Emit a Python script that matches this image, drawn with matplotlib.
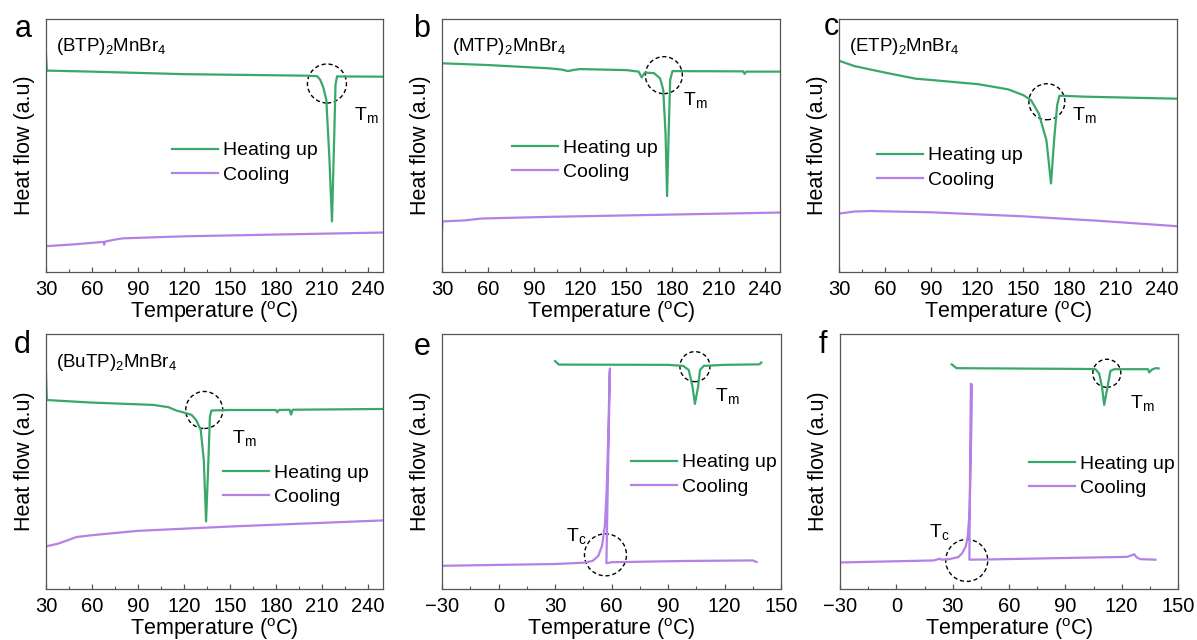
import matplotlib
matplotlib.use("Agg")
import matplotlib.pyplot as plt
from matplotlib.patches import Circle
from matplotlib.transforms import ScaledTranslation
from matplotlib.ticker import MultipleLocator

plt.rcParams['font.family'] = ['Liberation Sans', 'DejaVu Sans']
plt.rcParams['mathtext.default'] = 'regular'

GREEN = '#3aa86a'
PURPLE = '#b482e6'

# ---- data (heat flow in arbitrary units, 0-100 span of the frame) ----
# a: (BTP)2MnBr4
a_heat_x = [30, 30.5, 60, 120, 200, 207, 209, 211, 213, 215, 216.7, 218, 219, 220, 250]
a_heat_y = [86, 79.6, 79.2, 78.2, 77.6, 77.4, 76, 73, 68, 45, 20, 50, 74, 77.3, 77.2]
a_cool_x = [30, 50, 67.5, 68, 68.5, 75, 80, 120, 180, 250]
a_cool_y = [10.2, 11.0, 11.9, 10.8, 12.0, 12.8, 13.3, 14.1, 14.8, 15.6]

# b: (MTP)2MnBr4
b_heat_x = [30, 60, 100, 108, 112, 116, 120, 150, 158, 160, 162, 168, 172, 174, 175.5,
            176.5, 177.5, 178.5, 180, 226, 227, 228, 250]
b_heat_y = [82.5, 81.8, 80.5, 80.0, 79.4, 79.9, 80.2, 79.8, 79.2, 76.9, 78.8, 78.6, 76.5,
            72, 54.7, 30, 54, 75.9, 79.4, 79.3, 78.3, 79.2, 79.2]
b_cool_x = [30, 30.3, 45, 55, 60, 100, 250]
b_cool_y = [16.5, 20.0, 20.4, 21.1, 21.2, 21.8, 23.5]

# c: (ETP)2MnBr4
c_heat_x = [30, 40, 60, 80, 90, 110, 120, 140, 150, 155, 160, 165, 168, 170, 172, 173.5, 190, 250]
c_heat_y = [83.5, 81.4, 78.8, 76.4, 75.9, 74.8, 74.3, 72.2, 69.9, 67.9, 62.7, 52.1, 35,
            52, 66, 69.7, 69.3, 68.5]
c_cool_x = [30, 40, 50, 90, 150, 200, 250]
c_cool_y = [23.1, 23.9, 24.1, 23.6, 22.0, 20.2, 18.1]

# d: (BuTP)2MnBr4
d_heat_x = [30, 30.5, 60, 100, 110, 115, 120, 125, 128, 131, 133, 134.5, 136, 137, 138, 150,
            180, 181, 182, 189, 190, 191, 250]
d_heat_y = [84.6, 74.1, 73.1, 72.2, 71.3, 70.0, 69.2, 68.3, 66.3, 62.4, 50.7, 26.5, 50,
            67.6, 70.0, 70.2, 70.2, 69.3, 70.2, 70.3, 68.4, 70.3, 70.6]
d_cool_x = [30, 38, 45, 50, 60, 90, 150, 250]
d_cool_y = [16.7, 17.8, 19.3, 20.4, 21.1, 22.8, 24.5, 26.9]

# e
e_heat_x = [30, 32, 90, 98, 101, 103, 104.3, 106, 107, 109, 120, 138.5, 139.5]
e_heat_y = [89.4, 88.0, 87.9, 87.5, 85.9, 79.4, 72.6, 79.4, 85.9, 87.5, 87.9, 88.1, 88.8]
e_cool_x = [-30, 30, 45, 50, 53, 55, 56.5, 57.5, 58.3, 59, 59.2, 59.0, 58.0, 57.3, 60, 100,
            135, 137]
e_cool_y = [9.1, 9.8, 10.3, 11, 13, 17, 25, 40, 60, 85, 86.5, 80, 40, 10.1, 10.5, 11.0,
            11.2, 10.6]

# f
f_heat_x = [29.5, 32, 100, 106, 108, 109.5, 110.7, 112.5, 114, 116, 134, 134.7, 136, 138, 139.7]
f_heat_y = [88.1, 86.6, 86.3, 86.2, 84.5, 79.4, 72.2, 79.4, 85.5, 86.2, 86.2, 84.9, 86.0,
            86.6, 86.5]
f_cool_x = [-30, 20, 23.3, 24, 28, 33, 35, 37, 38, 39, 39.5, 40, 40.3, 39.7, 39.3, 38.9,
            50, 100, 123, 126.7, 128, 130, 138]
f_cool_y = [10.4, 11.2, 11.9, 11.5, 11.7, 12.5, 14, 16.7, 20.6, 29.8, 46.7, 66.3, 80,
            80.5, 50, 11.5, 11.6, 12.3, 12.6, 13.6, 12.4, 11.7, 11.5]

panels = [
    dict(letter='a', title='(BTP)$_2$MnBr$_4$', hx=a_heat_x, hy=a_heat_y, cx=a_cool_x, cy=a_cool_y,
         xlim=(30, 250), ticks=range(30, 241, 30), leg=(0.374, 0.515),
         circles=[(213.4, 74.5, 19.5)], labels=[(230.9, 62, 'T$_m$')]),
    dict(letter='b', title='(MTP)$_2$MnBr$_4$', hx=b_heat_x, hy=b_heat_y, cx=b_cool_x, cy=b_cool_y,
         xlim=(30, 250), ticks=range(30, 241, 30), leg=(0.207, 0.525),
         circles=[(174.4, 77.8, 18.5)], labels=[(187, 67.9, 'T$_m$')]),
    dict(letter='c', title='(ETP)$_2$MnBr$_4$', hx=c_heat_x, hy=c_heat_y, cx=c_cool_x, cy=c_cool_y,
         xlim=(30, 250), ticks=range(30, 241, 30), leg=(0.112, 0.495),
         circles=[(165.3, 67.3, 18)], labels=[(181.6, 62, 'T$_m$')]),
    dict(letter='d', title='(BuTP)$_2$MnBr$_4$', hx=d_heat_x, hy=d_heat_y, cx=d_cool_x, cy=d_cool_y,
         xlim=(30, 250), ticks=range(30, 241, 30), leg=(0.525, 0.49),
         circles=[(133.3, 70.2, 18.5)], labels=[(151.3, 59.1, 'T$_m$')]),
    dict(letter='e', title=None, hx=e_heat_x, hy=e_heat_y, cx=e_cool_x, cy=e_cool_y,
         xlim=(-30, 150), ticks=range(-30, 151, 30), leg=(0.558, 0.53),
         circles=[(104.3, 87.2, 15), (56.8, 13.4, 21)],
         labels=[(115, 75.7, 'T$_m$'), (35.6, 20.6, 'T$_c$')]),
    dict(letter='f', title=None, hx=f_heat_x, hy=f_heat_y, cx=f_cool_x, cy=f_cool_y,
         xlim=(-30, 150), ticks=range(-30, 151, 30), leg=(0.559, 0.525),
         circles=[(112.1, 84.6, 14), (37.5, 11.2, 21)],
         labels=[(124.6, 72.8, 'T$_m$'), (17.4, 22.2, 'T$_c$')]),
]

W, H = 1197, 640
fig = plt.figure(figsize=(W / 100, H / 100), dpi=100)

# axes boxes in pixels: left, top, right, bottom
boxes = [(46, 19, 383, 272), (442, 19, 780, 272), (839, 19, 1177, 272),
         (46, 334, 383, 589), (442, 334, 781, 589), (840, 334, 1178, 589)]
letter_pos = [(15, 37), (413, 37), (824, 35), (14, 353), (414, 355), (819, 353)]

for p, (l, t, r, b), (lx, ly) in zip(panels, boxes, letter_pos):
    ax = fig.add_axes([l / W, 1 - b / H, (r - l) / W, (b - t) / H])
    ax.plot(p['hx'], p['hy'], color=GREEN, lw=1.6, label='Heating up')
    ax.plot(p['cx'], p['cy'], color=PURPLE, lw=1.6, label='Cooling')
    ax.set_xlim(*p['xlim'])
    ax.set_ylim(0, 100)
    ax.set_xticks(list(p['ticks']))
    ax.xaxis.set_minor_locator(MultipleLocator(15))
    ax.set_yticks([])
    ax.tick_params(axis='x', which='major', direction='in', length=3.5, width=0.9,
                   labelsize=14.5, pad=6, color='#555555')
    ax.tick_params(axis='x', which='minor', direction='in', length=2, width=0.8, color='#555555')
    for s in ax.spines.values():
        s.set_color('#555555')
        s.set_linewidth(0.9)
    ax.set_xlabel('Temperature ($^{o}$C)', fontsize=15.5, labelpad=0)
    ax.set_ylabel('Heat flow (a.u)', fontsize=15.5, labelpad=8)

    if p['title']:
        ax.text(0.03, 0.89, p['title'], transform=ax.transAxes, fontsize=13.5,
                va='center', ha='left')

    for cx, cy, rad in p['circles']:
        circ = Circle((0, 0), radius=rad / 100, fill=False, ls=(0, (3, 2)), lw=1.0,
                      color='black',
                      transform=fig.dpi_scale_trans + ScaledTranslation(cx, cy, ax.transData))
        ax.add_patch(circ)
    for tx, ty, s in p['labels']:
        ax.text(tx, ty, s, fontsize=14, va='center', ha='left')

    ax.legend(loc='upper left', bbox_to_anchor=p['leg'], frameon=False, fontsize=14,
              handlelength=2.37, handletextpad=0.25, labelspacing=0.35, borderpad=0,
              borderaxespad=0)

    fig.text(lx / W, 1 - ly / H, p['letter'], fontsize=22, va='baseline', ha='left')

fig.savefig('out.png', dpi=100)
